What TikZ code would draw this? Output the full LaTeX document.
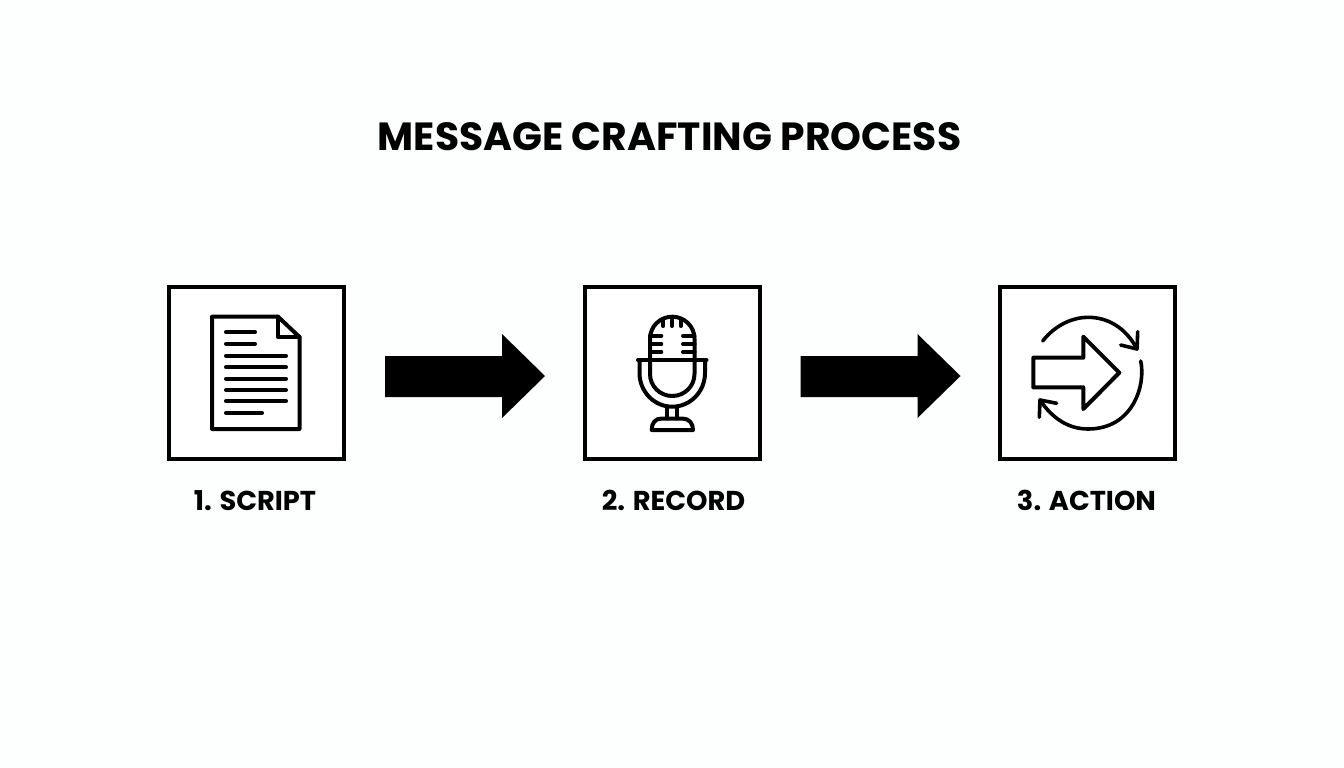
\documentclass[tikz,border=0pt]{standalone}
\usepackage{fontspec}
\setmainfont{Poppins}[BoldFont=Poppins Bold]
\definecolor{ink}{HTML}{000000}
\definecolor{paper}{HTML}{FDFEFE}
\tikzset{
  framebox/.style={draw=ink,line width=4pt,fill=white,minimum width=175pt,minimum height=172pt,inner sep=0pt,outer sep=0pt},
  icon/.style={draw=ink,line width=4pt,line join=round,line cap=round},
  iconthin/.style={draw=ink,line width=3.6pt,line join=round,line cap=round},
  title/.style={font=\bfseries\fontsize{39.3}{46}\selectfont,text=ink,inner sep=0pt,anchor=base},
  steplabel/.style={font=\bfseries\fontsize{27.3}{32}\selectfont,text=ink,inner sep=0pt,anchor=base},
}
\begin{document}
\begin{tikzpicture}[x=1pt,y=-1pt]
\fill[paper] (0,0) rectangle (1344,768);
\useasboundingbox (0,0) rectangle (1344,768);
\node[title] (t) at (669.5,150) {MESSAGE CRAFTING PROCESS};
\node[framebox] (b1) at (256.5,373) {};
\node[framebox] (b2) at (672,373) {};
\node[framebox] (b3) at (1087.5,373) {};
\node[steplabel] (l1) at (255,510.5) {1. SCRIPT};
\node[steplabel] (l2) at (673.5,510.5) {2. RECORD};
\node[steplabel] (l3) at (1086.5,510.5) {3. ACTION};
% block arrows
\foreach \a in {b1,b2}{
  \fill[ink] ([shift={(41pt,17pt)}]\a.east) -- ++(117,0) -- ++(0,-22) -- ++(43,42) -- ++(-43,42) -- ++(0,-21) -- ++(-117,0) -- cycle;
}
% document
\draw[icon] (212,316.7) -- (278,316.7) -- (299.5,337) -- (299.5,429) -- (212,429) -- cycle;
\draw[icon] (278,316.7) -- (278,337) -- (299.5,337);
\foreach \y/\e in {332.3/255,343.7/255,355.7/286,367.3/286,378.7/286,390/286,401.3/286,413/262}
  \draw[icon] (226,\y) -- (\e,\y);
% microphone
\draw[icon] (650,360) -- (650,338.7) arc[start angle=180,end angle=360,x radius=22.25,y radius=22] -- (694.5,374) arc[start angle=0,end angle=180,x radius=22.25,y radius=22] -- cycle;
\draw[icon] (638,360) -- (706.5,360);
\draw[icon] (639.5,360) -- (639.5,373) arc[start angle=180,end angle=0,x radius=32.75,y radius=33.7] -- (705,360);
\draw[icon] (666.7,406.7) -- (666.7,418.5) (677,406.7) -- (677,418.5);
\draw[icon] (651.7,430) .. controls (651.7,423) and (655,418.5) .. (662,418.5) -- (682,418.5) .. controls (689,418.5) and (693,423) .. (693,430) -- cycle;
\foreach \x in {663.3,672,680.7}
  \draw[icon] (\x,320) -- (\x,326);
\foreach \y in {335.7,344,352}{
  \draw[icon] (650,\y) -- (661.3,\y);
  \draw[icon] (683,\y) -- (694.5,\y);
}
% action
\draw[icon] (1033.3,357.7) -- (1083.3,357.7) -- (1083.3,336.7) -- (1119.3,372.7) -- (1083.3,409) -- (1083.3,387.3) -- (1033.3,387.3) -- cycle;
\draw[iconthin] (1042.7,341) .. controls (1056,324) and (1074,317.3) .. (1088,317.3) .. controls (1108,317.3) and (1126,328) .. (1137,349);
\draw[iconthin] (1137.7,331.7) -- (1137,349) -- (1120.7,345);
\draw[iconthin] (1140.7,361) .. controls (1146,385) and (1133,429) .. (1088,429) .. controls (1068,429) and (1052,418) .. (1040,400);
\draw[iconthin] (1056.7,403.3) -- (1040,400) -- (1039.3,417.3);
\end{tikzpicture}
\end{document}
